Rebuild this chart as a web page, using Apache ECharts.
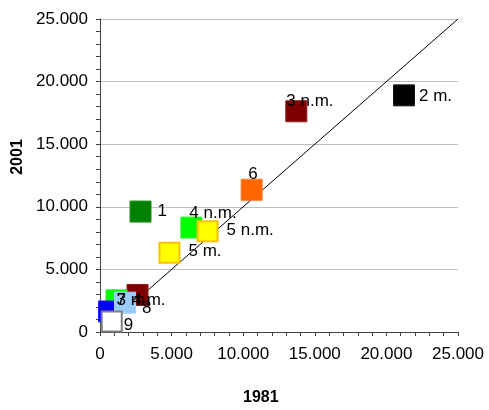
<!DOCTYPE html>
<html>
<head>
<meta charset="utf-8">
<script src="https://cdn.jsdelivr.net/npm/echarts@6/dist/echarts.min.js"></script>
<style>
html,body{margin:0;padding:0;background:#fff;}
#chart{width:489px;height:410px;}
</style>
</head>
<body>
<div id="chart"></div>
<script>
// ---- data ----
const pointNames = ['1', '2 m.', '3 n.m.', '3 m.', '4 n.m.', '4 m.', '5 m.', '5 n.m.', '6', '7', '8', '9'];
const values1981 = [2830, 21230, 13710, 2620, 6380, 1150, 4850, 7510, 10590, 630, 1750, 820];
const values2001 = [9620, 18900, 17630, 2960, 8340, 2530, 6330, 8040, 11360, 1640, 2340, 830];
const axisTicks = [0, 5000, 10000, 15000, 20000, 25000];
const diagonalEnds = [[0, 0], [25000, 25000]];

// ---- styles ----
const markerStyle = {
  '1':      {fill: '#008000', border: '#1a8f1a', bw: 1},
  '2 m.':   {fill: '#000000', border: '#1a1a1a', bw: 1},
  '3 n.m.': {fill: '#800000', border: '#8f1a1a', bw: 1},
  '3 m.':   {fill: '#800000', border: '#8f1a1a', bw: 1},
  '4 n.m.': {fill: '#00FF00', border: '#33ee33', bw: 1},
  '4 m.':   {fill: '#00FF00', border: '#33ee33', bw: 1},
  '5 m.':   {fill: '#FFFF00', border: '#FFC000', bw: 2},
  '5 n.m.': {fill: '#FFFF00', border: '#FFC000', bw: 2},
  '6':      {fill: '#FF6600', border: '#ff7a22', bw: 1},
  '7':      {fill: '#0000FF', border: '#2222ff', bw: 1},
  '8':      {fill: '#99CCFF', border: '#a8d4ff', bw: 1},
  '9':      {fill: '#FFFFFF', border: '#808080', bw: 2}
};
// label text start / vertical centre relative to marker centre (px)
const labelPlace = {
  '1': [17, 0], '2 m.': [15, 1], '3 n.m.': [-10, -10], '3 m.': [-21, 5],
  '4 n.m.': [-2, -14], '4 m.': [16, 0], '5 m.': [19, -1], '5 n.m.': [19, -1],
  '6': [-3.5, -15.5], '7': [7.5, -11], '8': [17, 6], '9': [12, 4]
};

const FONT = '"Liberation Sans", Arial, sans-serif';
const fmt = v => v === 0 ? '0' : (v / 1000) + '.000';

const scatterData = pointNames.map((n, i) => {
  const st = markerStyle[n];
  const lp = labelPlace[n];
  return {
    name: n,
    value: [values1981[i], values2001[i]],
    symbolSize: st.bw === 2 ? 20 : 21,
    itemStyle: {color: st.fill, borderColor: st.border, borderWidth: st.bw, opacity: 1},
    label: {
      show: true, formatter: n, position: 'inside', align: 'left', verticalAlign: 'middle',
      offset: lp, color: '#000', fontSize: 17, fontFamily: FONT,
      textBorderWidth: 0, opacity: 1
    }
  };
});

const chart = echarts.init(document.getElementById('chart'), null, {renderer: 'canvas'});
const axisCommon = {
  type: 'value', min: 0, max: 25000, interval: 5000,
  axisLine: {show: true, lineStyle: {color: '#404040', width: 1}},
  axisTick: {show: true, inside: false, length: 4, lineStyle: {color: '#404040'}},
  minorTick: {show: true, splitNumber: 5, length: 4, lineStyle: {color: '#404040'}},
  axisLabel: {formatter: fmt, color: '#000', fontSize: 17, fontFamily: FONT},
  minorSplitLine: {show: false}
};
chart.setOption({
  animation: false,
  backgroundColor: '#fff',
  grid: {left: 100, top: 19, width: 358, height: 313, containLabel: false},
  xAxis: Object.assign({}, axisCommon, {
    axisLabel: Object.assign({}, axisCommon.axisLabel, {margin: 14}),
    splitLine: {show: false}
  }),
  yAxis: Object.assign({}, axisCommon, {
    axisLabel: Object.assign({}, axisCommon.axisLabel, {margin: 12}),
    splitLine: {show: true, lineStyle: {color: '#c0c0c0', width: 1}}
  }),
  graphic: [
    {type: 'text', left: 243, top: 390, style: {text: '1981', font: 'bold 16px ' + FONT, fill: '#000'}},
    {type: 'text', x: 18, y: 157, rotation: Math.PI / 2,
     style: {text: '2001', font: 'bold 16px ' + FONT, fill: '#000', align: 'center', verticalAlign: 'middle'}}
  ],
  series: [
    {type: 'line', data: diagonalEnds, showSymbol: false, symbol: 'none',
     lineStyle: {color: '#000', width: 1}, z: 1, silent: true},
    {type: 'scatter', symbol: 'rect', data: scatterData, z: 2,
     itemStyle: {opacity: 1}, emphasis: {disabled: true}}
  ]
});
</script>
</body>
</html>
